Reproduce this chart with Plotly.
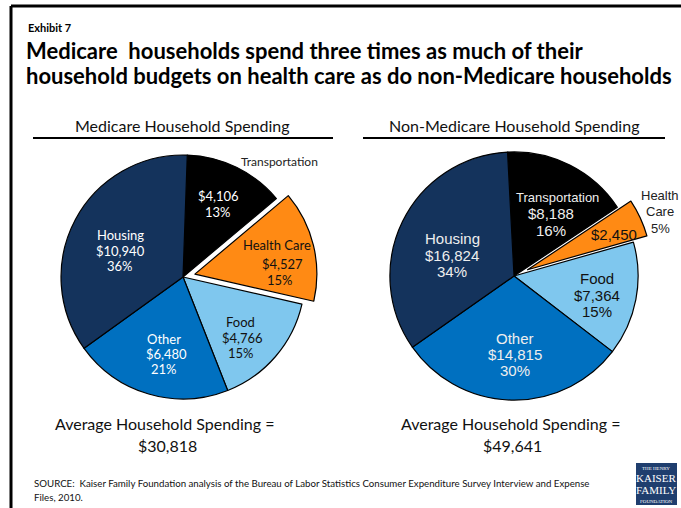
import plotly.graph_objects as go

W, H = 681, 508

categories = ['Transportation', 'Health Care', 'Food', 'Other', 'Housing']
medicare_spend = [4106, 4527, 4766, 6480, 10940]
medicare_pct = [13, 15, 15, 21, 36]
non_medicare_spend = [8188, 2450, 7364, 14815, 16824]
non_medicare_pct = [16, 5, 15, 30, 34]
medicare_avg = 30818
non_medicare_avg = 49641

colors = ['#000000', '#FF8A14', '#7FC7EE', '#0070C0', '#14335C']


def px(x):
    return x / W


def py(y):
    return 1 - y / H


def money(v):
    return '${:,}'.format(v)


fig = go.Figure()

fig.add_trace(go.Pie(
    labels=categories, values=medicare_spend, sort=False, direction='clockwise',
    rotation=2, pull=[0, 0.1, 0, 0, 0], textinfo='none', hoverinfo='label+value+percent',
    marker=dict(colors=colors, line=dict(color='#000000', width=1.2)),
    domain=dict(x=[0.0717, 0.4658], y=[0.1906, 0.7189]), showlegend=False,
))
fig.add_trace(go.Pie(
    labels=categories, values=non_medicare_spend, sort=False, direction='clockwise',
    rotation=-3, pull=[0, 0.12, 0, 0, 0], textinfo='none', hoverinfo='label+value+percent',
    marker=dict(colors=colors, line=dict(color='#000000', width=1.2)),
    domain=dict(x=[0.5507, 0.9589], y=[0.1831, 0.7303]), showlegend=False,
))

ann = []


def text(x, y, s, size=13, color='#000000', family='Lato', anchor='center', bold=False):
    if bold:
        s = '<b>' + s + '</b>'
    ann.append(dict(x=px(x), y=py(y), xref='paper', yref='paper', text=s, showarrow=False,
                    xanchor=anchor, yanchor='middle',
                    font=dict(size=size, color=color, family=family)))


# heading
text(26, 27, 'Exhibit 7', size=11, anchor='left', bold=True)
text(24, 50, 'Medicare  households spend three times as much of their', size=22, anchor='left', bold=True)
text(24, 76, 'household budgets on health care as do non-Medicare households', size=22, anchor='left', bold=True)

# panel titles
text(183, 125, 'Medicare Household Spending', size=16, color='#111111')
text(514, 125, 'Non-Medicare Household Spending', size=16, color='#111111')

# left pie labels
lf = 'Lato'
text(279, 161, categories[0], size=12, color='#222222', family=lf)
text(218, 196, money(medicare_spend[0]), color='white', family=lf)
text(218, 212, '{}%'.format(medicare_pct[0]), color='white', family=lf)
text(277, 245, categories[1], color='#111111', family=lf)
text(282, 264, money(medicare_spend[1]), color='#111111', family=lf)
text(280, 280, '{}%'.format(medicare_pct[1]), color='#111111', family=lf)
text(241, 322, categories[2], color='#111111', family=lf)
text(242, 338, money(medicare_spend[2]), color='#111111', family=lf)
text(241, 353, '{}%'.format(medicare_pct[2]), color='#111111', family=lf)
text(164, 339, categories[3], color='white', family=lf)
text(166, 354, money(medicare_spend[3]), color='white', family=lf)
text(164, 369, '{}%'.format(medicare_pct[3]), color='white', family=lf)
text(120, 235, categories[4], color='white', family=lf)
text(120, 251, money(medicare_spend[4]), color='white', family=lf)
text(120, 266, '{}%'.format(medicare_pct[4]), color='white', family=lf)

# right pie labels
rf = 'Liberation Sans'
text(557, 197, categories[0], size=13, color='#EEEEEE', family=rf)
text(551, 214, money(non_medicare_spend[0]), size=15, color='#EEEEEE', family=rf)
text(551, 230, '{}%'.format(non_medicare_pct[0]), size=15, color='#EEEEEE', family=rf)
text(660, 195, 'Health', size=13, color='#222222', family=rf)
text(660, 212, 'Care', size=13, color='#222222', family=rf)
text(660, 228, '{}%'.format(non_medicare_pct[1]), size=13, color='#222222', family=rf)
text(614, 234, money(non_medicare_spend[1]), size=15, color='#111111', family=rf)
text(597, 278, categories[2], size=15, color='#111111', family=rf)
text(597, 295, money(non_medicare_spend[2]), size=15, color='#111111', family=rf)
text(597, 311, '{}%'.format(non_medicare_pct[2]), size=15, color='#111111', family=rf)
text(515, 338, categories[3], size=15, color='#EEEEEE', family=rf)
text(515, 354, money(non_medicare_spend[3]), size=15, color='#EEEEEE', family=rf)
text(515, 370, '{}%'.format(non_medicare_pct[3]), size=15, color='#EEEEEE', family=rf)
text(452, 238, categories[4], size=15, color='#EEEEEE', family=rf)
text(452, 255, money(non_medicare_spend[4]), size=15, color='#EEEEEE', family=rf)
text(452, 271, '{}%'.format(non_medicare_pct[4]), size=15, color='#EEEEEE', family=rf)

# averages
text(165, 423, 'Average Household Spending =', size=16, color='#111111')
text(167, 445, money(medicare_avg), size=16, color='#111111')
text(511, 423, 'Average Household Spending =', size=16, color='#111111')
text(512, 445, money(non_medicare_avg), size=16, color='#111111')

# source
text(32, 483, 'SOURCE:  Kaiser Family Foundation analysis of the Bureau of Labor Statistics Consumer Expenditure Survey Interview and Expense',
     size=9.7, color='#111111', anchor='left')
text(32, 497, 'Files, 2010.', size=9.7, color='#111111', anchor='left')

# logo text
sf = 'Liberation Serif'
text(656, 468, 'THE HENRY', size=5, color='white', family=sf)
text(656, 478, 'KAISER', size=11, color='white', family=sf)
text(656, 490, 'FAMILY', size=11, color='white', family=sf)
text(656, 501, 'FOUNDATION', size=5, color='white', family=sf)

shapes = [
    # frame
    dict(type='line', xref='paper', yref='paper', x0=px(11), x1=px(690), y0=py(6), y1=py(6),
         line=dict(color='black', width=3)),
    dict(type='line', xref='paper', yref='paper', x0=px(11), x1=px(11), y0=py(6), y1=py(520),
         line=dict(color='black', width=3)),
    # underlines
    dict(type='line', xref='paper', yref='paper', x0=px(33), x1=px(333), y0=py(138), y1=py(138),
         line=dict(color='black', width=2)),
    dict(type='line', xref='paper', yref='paper', x0=px(363), x1=px(665), y0=py(138), y1=py(138),
         line=dict(color='black', width=2)),
    # logo box
    dict(type='rect', xref='paper', yref='paper', x0=px(636), x1=px(677), y0=py(505), y1=py(463),
         fillcolor='#1F3E6E', line=dict(width=0), layer='below'),
]

fig.update_layout(
    width=W, height=H, margin=dict(l=0, r=0, t=0, b=0),
    paper_bgcolor='white', plot_bgcolor='white',
    annotations=ann, shapes=shapes,
)

fig.write_html("out.html", config={'displayModeBar': False},
               post_script="document.body.style.margin='0';")
